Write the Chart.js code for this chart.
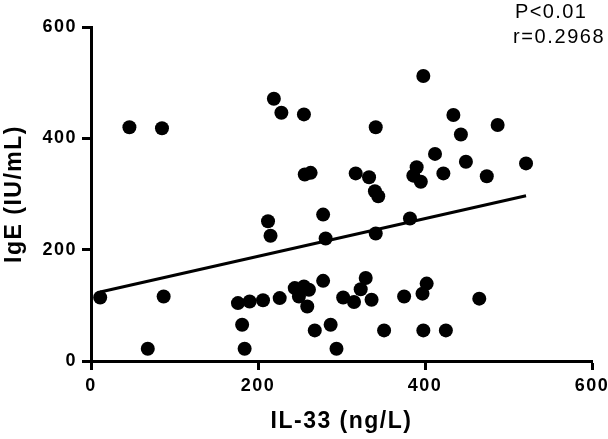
<!DOCTYPE html>
<html>
<head>
<meta charset="utf-8">
<script src="https://cdn.jsdelivr.net/npm/chart.js@4"></script>
<style>
  html, body { margin: 0; padding: 0; background: #fff; }
  #wrap { width: 608px; height: 439px; }
</style>
</head>
<body>
<div id="wrap"><canvas id="myChart" width="608" height="439"></canvas></div>
<script>
// IL-33 (ng/L) vs IgE (IU/mL)
var il33 = [11, 46, 85, 87, 68, 219, 228, 255, 256, 263,
            398, 434, 341, 487, 443, 412, 449, 521, 317, 333,
            390, 386, 395, 422, 474, 340, 344, 212, 215, 176,
            190, 206, 226, 181, 184, 278, 281, 244, 255, 261,
            249, 259, 278, 268, 287, 294, 302, 382, 341, 329,
            323, 315, 336, 375, 402, 397, 465, 351, 398, 425];
var ige = [114, 420, 418, 116, 22, 471, 446, 443, 335, 338,
           512, 442, 420, 424, 407, 372, 358, 355, 337, 330,
           348, 333, 322, 337, 332, 305, 296, 251, 225, 104,
           107, 109, 113, 65, 22, 263, 220, 131, 134, 128,
           116, 98, 144, 55, 65, 22, 114, 256, 229, 149,
           129, 106, 110, 116, 139, 121, 112, 55, 55, 55];

// fitted line ends
var fitX = [11, 521];
var fitY = [124, 297];

var xTicks = [0, 200, 400, 600];
var yTicks = [0, 200, 400, 600];
var statsText = ["P<0.01", "r=0.2968"];

var fontFam = "'Liberation Sans', Arial, sans-serif";

var points = il33.map(function (x, i) { return { x: x, y: ige[i] }; });
var fitPts = fitX.map(function (x, i) { return { x: x, y: fitY[i] }; });

// draw text one letter at a time with extra gap
function spacedText(ctx, str, x, y, gap) {
    for (var i = 0; i < str.length; i++) {
        ctx.fillText(str[i], x, y);
        x += ctx.measureText(str[i]).width + gap;
    }
}

var statsLabel = {
    id: 'statsLabel',
    beforeLayout: function (chart) {
        chart.ctx.letterSpacing = '1.5px';
    },
    beforeDraw: function (chart) {
        chart.ctx.letterSpacing = '1.5px';
    },
    afterDraw: function (chart) {
        var ctx = chart.ctx;
        ctx.save();
        ctx.letterSpacing = '0px';
        ctx.fillStyle = '#000';
        ctx.font = '20px ' + fontFam;
        ctx.textAlign = 'left';
        ctx.textBaseline = 'alphabetic';
        spacedText(ctx, statsText[0], 515, 18, 1.4);
        spacedText(ctx, statsText[1], 513, 43, 1.6);
        ctx.restore();
    }
};

var axisBase = {
    type: 'linear',
    min: 0,
    max: 600,
    border: { display: true, color: '#000', width: 3 },
    grid: {
        display: true,
        drawOnChartArea: false,
        drawTicks: true,
        tickLength: 9,
        tickWidth: 3,
        tickColor: '#000'
    }
};

new Chart("myChart", {
    type: "scatter",
    data: {
        datasets: [{
            data: points,
            backgroundColor: '#000',
            borderWidth: 0,
            pointRadius: 7,
            pointHoverRadius: 7
        }, {
            type: 'line',
            data: fitPts,
            borderColor: '#000',
            borderWidth: 3,
            pointRadius: 0,
            fill: false
        }]
    },
    options: {
        responsive: false,
        animation: false,
        events: [],
        layout: { padding: { top: 27, right: 16, left: 0, bottom: 0 } },
        plugins: {
            legend: { display: false },
            tooltip: { enabled: false }
        },
        scales: {
            x: Object.assign({}, axisBase, {
                afterBuildTicks: function (s) { s.ticks = xTicks.map(function (v) { return { value: v }; }); },
                afterFit: function (s) { s.height = 78; s.paddingLeft = 0; s.paddingRight = 0; },
                ticks: { color: '#000', padding: 5, maxRotation: 0, font: { family: fontFam, size: 18, weight: 'bold' } },
                title: { display: true, text: 'IL-33 (ng/L)', color: '#000', padding: { top: 0, bottom: 4 }, font: { family: fontFam, size: 23, weight: 'bold' } }
            }),
            y: Object.assign({}, axisBase, {
                afterBuildTicks: function (s) { s.ticks = yTicks.map(function (v) { return { value: v }; }); },
                afterFit: function (s) { s.width = 91; s.paddingTop = 0; s.paddingBottom = 0; },
                ticks: { color: '#000', padding: 5, font: { family: fontFam, size: 18, weight: 'bold' } },
                title: { display: true, text: 'IgE (IU/mL)', color: '#000', padding: { top: 1, bottom: 0 }, font: { family: fontFam, size: 23, weight: 'bold' } }
            })
        }
    },
    plugins: [statsLabel]
});
</script>
</body>
</html>
